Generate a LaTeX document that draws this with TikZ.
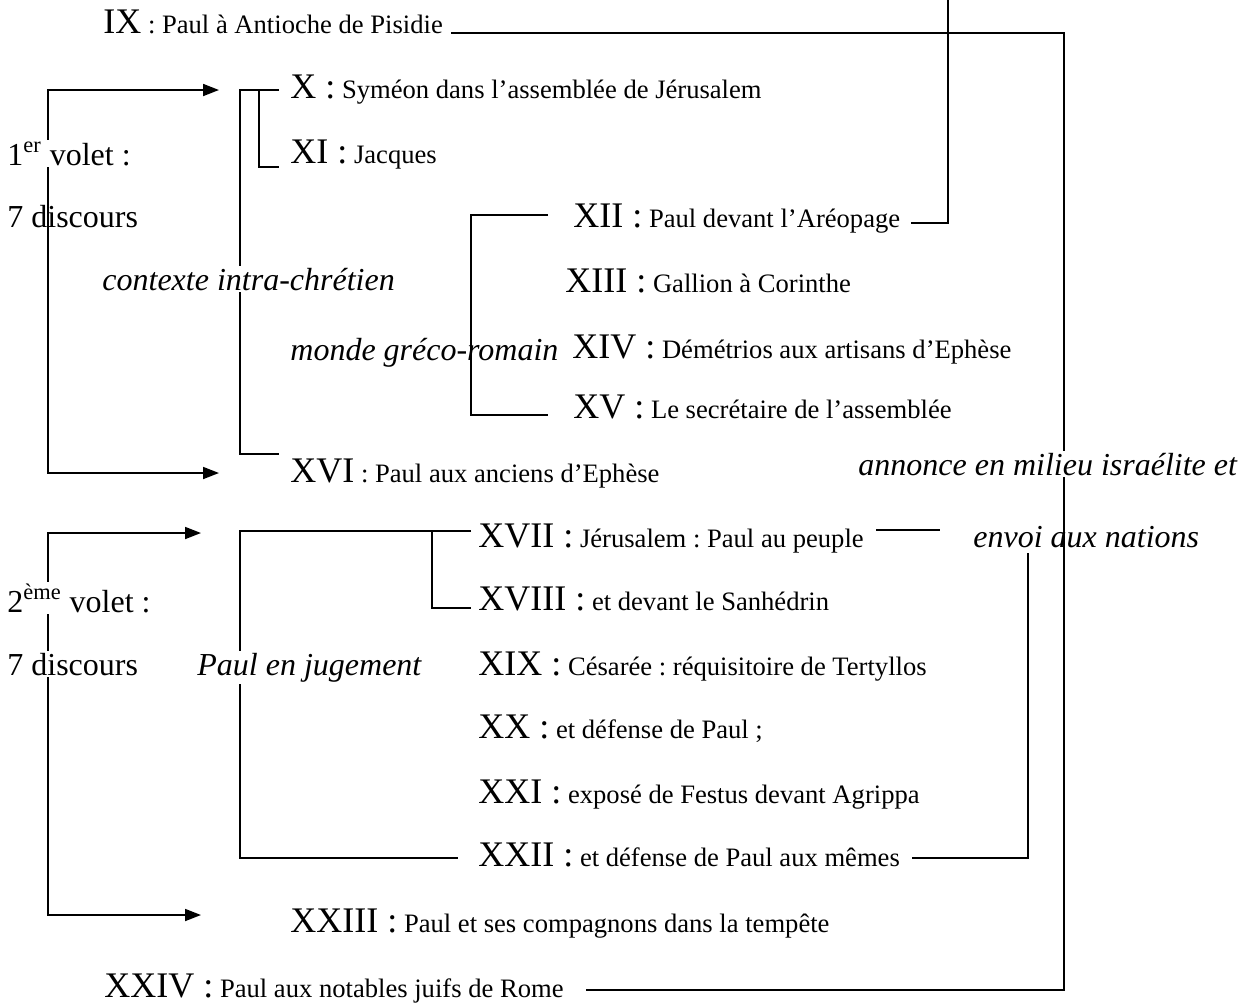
\documentclass[tikz,border=0pt]{standalone}
\usepackage{fontspec}
\setmainfont{Liberation Serif}
\usepackage{tikz}
\usetikzlibrary{arrows.meta}
\usetikzlibrary{backgrounds}
\frenchspacing

\newcommand{\rn}[1]{{\fontsize{18}{21}\selectfont #1}}

\tikzset{
  item/.style={anchor=base west, inner sep=0pt, font=\fontsize{13.3}{16}\selectfont},
  lbl/.style={anchor=base west, inner sep=0pt, font=\fontsize{16}{19}\selectfont},
  lbli/.style={lbl, font=\fontsize{16}{19}\selectfont\itshape},
  gap/.style={fill=white, inner sep=1pt},
  link/.style={line width=0.9pt},
  arr/.style={link, {Triangle[length=8pt,width=6pt]}-{Triangle[length=8pt,width=6pt]}}
}

\begin{document}
\begin{tikzpicture}[x=0.5pt,y=-0.5pt]
  \useasboundingbox (0,0) rectangle (1248,1003);

  % first part
  \node[item] (ix) at (103,33) {\rn{IX} : Paul à Antioche de Pisidie};
  \node[item] (x) at (290,98) {\rn{X :} Syméon dans l’assemblée de Jérusalem};
  \node[item] (xi) at (290,163) {\rn{XI :} Jacques};
  \node[lbl,gap] (volA) at (5,165) {1\textsuperscript{er} volet :};
  \node[lbl] (discA) at (7,227) {7 discours};
  \node[item] (xii) at (573,227) {\rn{XII :} Paul devant l’Aréopage};
  \node[lbli,gap] (ctx) at (100,290) {contexte intra-chrétien};
  \node[item] (xiii) at (565,292) {\rn{XIII :} Gallion à Corinthe};
  \node[lbli] (monde) at (290,360) {monde gréco-romain};
  \node[item] (xiv) at (572,358) {\rn{XIV :} Démétrios aux artisans d’Ephèse};
  \node[item] (xv) at (573,418) {\rn{XV :} Le secrétaire de l’assemblée};
  \node[item] (xvi) at (290,482) {\rn{XVI} : Paul aux anciens d’Ephèse};
  \node[lbli,gap] (annonce) at (856,475) {annonce en milieu israélite et};

  % second part
  \node[item] (xvii) at (478,547) {\rn{XVII :} Jérusalem : Paul au peuple};
  \node[lbli] (envoi) at (973,547) {envoi aux nations};
  \node[item] (xviii) at (478,610) {\rn{XVIII :} et devant le Sanhédrin};
  \node[lbl,gap] (volB) at (5,612) {2\textsuperscript{ème} volet :};
  \node[lbl,gap] (discB) at (5,675) {7 discours};
  \node[lbli,gap] (pj) at (195,675) {Paul en jugement};
  \node[item] (xix) at (478,675) {\rn{XIX :} Césarée : réquisitoire de Tertyllos};
  \node[item] (xx) at (478,738) {\rn{XX :} et défense de Paul ;};
  \node[item] (xxi) at (478,803) {\rn{XXI :} exposé de Festus devant Agrippa};
  \node[item] (xxii) at (478,866) {\rn{XXII :} et défense de Paul aux mêmes};
  \node[item] (xxiii) at (290,932) {\rn{XXIII :} Paul et ses compagnons dans la tempête};
  \node[item] (xxiv) at (104,997) {\rn{XXIV :} Paul aux notables juifs de Rome};

  \coordinate (railT) at (1064,33);
  \coordinate (railB) at (1064,990);
  \coordinate (topA) at (948,0);
  \coordinate (tipA1) at (219,90);
  \coordinate (cornA) at (48,473);
  \coordinate (tipA2) at (219,473);
  \coordinate (tipB1) at (201,533);
  \coordinate (cornB) at (48,915);
  \coordinate (tipB2) at (201,915);
  \coordinate (envR) at (1028,553);

  \begin{scope}[on background layer]
    \draw[link] ([xshift=4pt]ix.base east) -- (railT) -- (railB)
      -- ([xshift=11pt]railB -| xxiv.east);
    \draw[link] (topA) |- ([xshift=5pt,yshift=2pt]xii.base east);
    \draw[arr] (tipA1) -| (cornA) -- (tipA2);
    \draw[arr] (tipB1) -| (cornB) -- (tipB2);
    % contexte intra-chretien
    \draw[link] ([xshift=-5.5pt,yshift=4pt]x.base west) -- ++(-39,0)
      |- ([xshift=-5.5pt,yshift=14pt]xvi.base west);
    \draw[link] ([xshift=-15.5pt,yshift=4pt]x.base west)
      |- ([xshift=-5.5pt,yshift=-2pt]xi.base west);
    % monde greco-romain
    \draw[link] ([xshift=-12.5pt,yshift=6pt]xii.base west) -- ++(-77,0)
      |- ([xshift=-12.5pt,yshift=1.5pt]xv.base west);
    % Paul en jugement
    \draw[link] ([xshift=-3.5pt,yshift=8pt]xvii.base west) -- ++(-231,0)
      |- ([xshift=-10pt,yshift=4pt]xxii.base west);
    \draw[link] ([xshift=-23pt,yshift=8pt]xvii.base west)
      |- ([xshift=-3.5pt,yshift=1pt]xviii.base west);
    \draw[link] ([xshift=6pt,yshift=8.5pt]xvii.base east)
      -- ([xshift=-16.5pt,yshift=8.5pt]envoi.base west);
    \draw[link] ([xshift=6pt,yshift=4pt]xxii.base east) -| (envR);
  \end{scope}
\end{tikzpicture}
\end{document}
